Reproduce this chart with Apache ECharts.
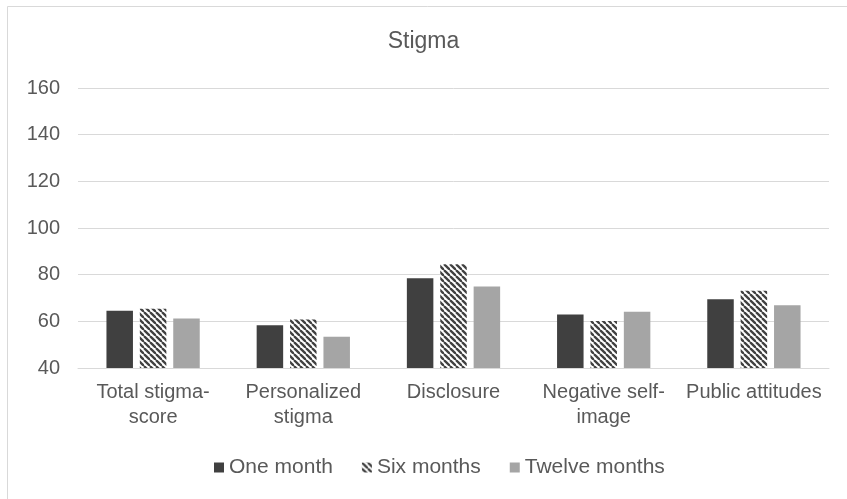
<!DOCTYPE html>
<html>
<head>
<meta charset="utf-8">
<script src="https://cdn.jsdelivr.net/npm/echarts@6/dist/echarts.min.js"></script>
<style>
  html, body { margin: 0; padding: 0; background: #fff; }
  #chart { width: 847px; height: 499px; }
</style>
</head>
<body>
<div id="chart"></div>
<script>
const categories = ['Total stigma-\nscore', 'Personalized\nstigma', 'Disclosure', 'Negative self-\nimage', 'Public attitudes']
const oneMonth = [64.5, 58.3, 78.5, 62.9, 69.5]
const sixMonths = [65.4, 60.8, 84.5, 60.1, 73.1]
const twelveMonths = [61.2, 53.4, 74.9, 64.1, 66.9]
const yTicks = { min: 40, max: 160, interval: 20 }

const textColor = '#595959'
const gridColor = '#d9d9d9'
const font = '"Liberation Sans", Arial, sans-serif'

// diagonal hatch for the "Six months" series
const makeHatch = () => {
  const s = 6
  const c = document.createElement('canvas')
  c.width = s
  c.height = s
  const ctx = c.getContext('2d')
  ctx.fillStyle = '#ffffff'
  ctx.fillRect(0, 0, s, s)
  ctx.strokeStyle = '#404040'
  ctx.lineWidth = 2.3
  for (const o of [-s, 0, s]) {
    ctx.beginPath()
    ctx.moveTo(o, 0)
    ctx.lineTo(o + s, s)
    ctx.stroke()
  }
  return { image: c, repeat: 'repeat' }
}

const chart = echarts.init(document.getElementById('chart'))

const barStyle = { barWidth: 26.5, barGap: '26%' }

chart.setOption({
  backgroundColor: '#fff',
  animation: false,
  textStyle: { fontFamily: font },
  graphic: [{
    type: 'rect',
    shape: { x: 7.5, y: 6.5, width: 900, height: 600 },
    style: { fill: 'none', stroke: gridColor, lineWidth: 1 },
    silent: true
  }],
  title: {
    text: 'Stigma',
    left: 'center',
    top: 25,
    textStyle: { color: textColor, fontSize: 23, fontWeight: 'normal', fontFamily: font }
  },
  legend: {
    bottom: 16,
    left: 209,
    itemWidth: 10,
    itemHeight: 10,
    itemGap: 29,
    icon: 'rect',
    textStyle: { color: textColor, fontSize: 21, fontFamily: font },
    data: ['One month', 'Six months', 'Twelve months']
  },
  grid: { left: 78, right: 18, top: 88, bottom: 131, containLabel: false },
  xAxis: {
    type: 'category',
    data: categories,
    axisLine: { lineStyle: { color: gridColor, width: 1 } },
    axisTick: { show: false },
    axisLabel: {
      color: textColor,
      fontSize: 20,
      lineHeight: 25,
      margin: 12,
      interval: 0,
      fontFamily: font
    }
  },
  yAxis: {
    type: 'value',
    min: yTicks.min,
    max: yTicks.max,
    interval: yTicks.interval,
    axisLine: { show: false },
    axisTick: { show: false },
    splitLine: { lineStyle: { color: gridColor, width: 1 } },
    axisLabel: { color: textColor, fontSize: 20, margin: 18, fontFamily: font }
  },
  series: [
    { name: 'One month', type: 'bar', data: oneMonth, itemStyle: { color: '#404040' }, ...barStyle },
    { name: 'Six months', type: 'bar', data: sixMonths, itemStyle: { color: makeHatch() }, ...barStyle },
    { name: 'Twelve months', type: 'bar', data: twelveMonths, itemStyle: { color: '#a5a5a5' }, ...barStyle }
  ]
})
</script>
</body>
</html>
